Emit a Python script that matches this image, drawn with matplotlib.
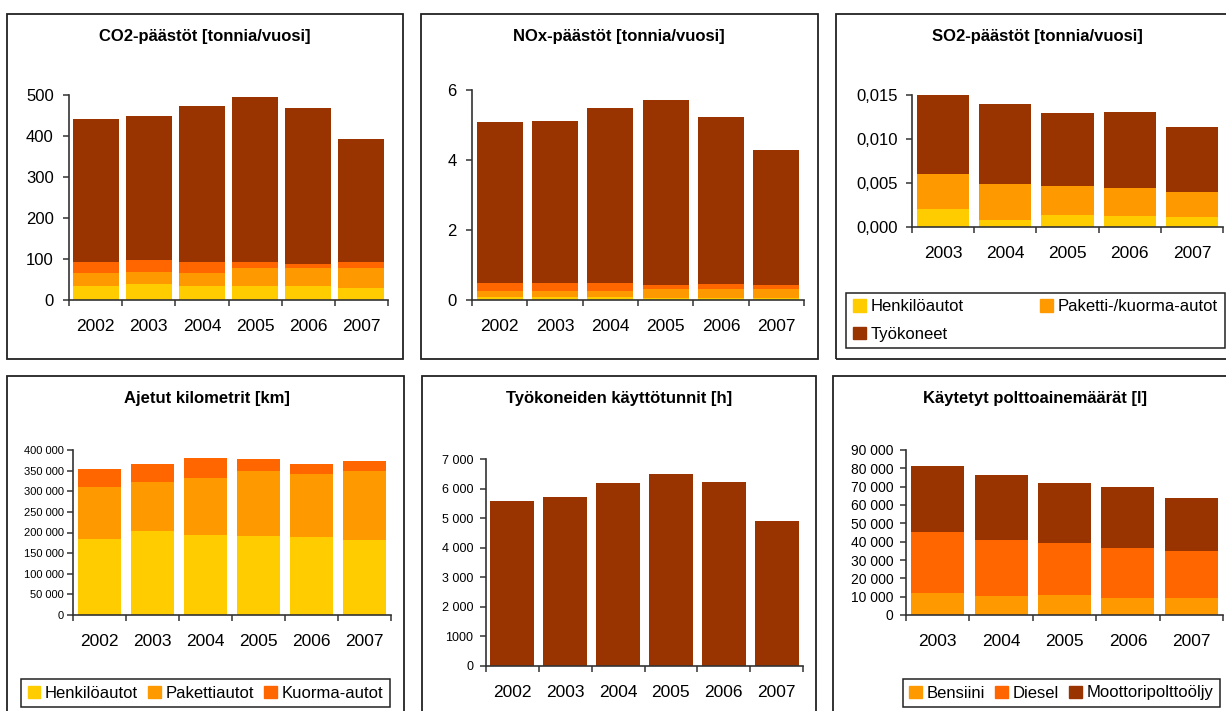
import matplotlib
matplotlib.use("Agg")
import matplotlib.pyplot as plt
from matplotlib.patches import Rectangle, Patch
import numpy as np

plt.rcParams['font.family'] = ['Liberation Sans', 'DejaVu Sans']

W, H = 1226, 711
DPI = 100

YELLOW = '#FFCC00'
LORANGE = '#FF9900'
ORANGE = '#FF6600'
BROWN = '#993300'

# --- data ---
years6 = ['2002', '2003', '2004', '2005', '2006', '2007']
years5 = ['2003', '2004', '2005', '2006', '2007']

co2_henkilo = [34, 39, 34, 34, 34, 29]
co2_paketti = [32, 29, 32, 44, 44, 49]
co2_kuorma = [27, 30, 27, 15, 10, 15]
co2_tyokoneet = [348, 351, 380, 402, 380, 300]

nox_henkilo = [0.09, 0.09, 0.09, 0.06, 0.06, 0.06]
nox_paketti = [0.17, 0.17, 0.17, 0.25, 0.25, 0.25]
nox_kuorma = [0.23, 0.23, 0.23, 0.12, 0.15, 0.12]
nox_tyokoneet = [4.60, 4.62, 5.00, 5.28, 4.77, 3.86]

so2_henkilo = [0.0020, 0.0008, 0.0014, 0.0012, 0.0011]
so2_paketti_kuorma = [0.0040, 0.0041, 0.0033, 0.0032, 0.0029]
so2_tyokoneet = [0.0090, 0.0091, 0.0082, 0.0087, 0.0074]

km_henkilo = [184000, 204000, 194000, 192000, 189000, 182000]
km_paketti = [126000, 118000, 138000, 157000, 153000, 167000]
km_kuorma = [44000, 44000, 49000, 29000, 24000, 24000]

tunnit = [5590, 5700, 6175, 6500, 6230, 4910]

bensiini = [12000, 10400, 10900, 9300, 9300]
diesel = [33300, 30500, 28400, 27200, 25600]
moottoripolttooljy = [36000, 35500, 32700, 33300, 28900]

co2_ticks = [0, 100, 200, 300, 400, 500]
co2_ticklabels = ['0', '100', '200', '300', '400', '500']
nox_ticks = [0, 2, 4, 6]
nox_ticklabels = ['0', '2', '4', '6']
so2_ticks = [0, 0.005, 0.010, 0.015]
so2_ticklabels = ['0,000', '0,005', '0,010', '0,015']
km_ticks = [0, 50000, 100000, 150000, 200000, 250000, 300000, 350000, 400000]
km_ticklabels = ['0', '50 000', '100 000', '150 000', '200 000', '250 000',
                 '300 000', '350 000', '400 000']
h_ticks = [0, 1000, 2000, 3000, 4000, 5000, 6000, 7000]
h_ticklabels = ['0', '1000', '2 000', '3 000', '4 000', '5 000', '6 000', '7 000']
l_ticks = [0, 10000, 20000, 30000, 40000, 50000, 60000, 70000, 80000, 90000]
l_ticklabels = ['0', '10 000', '20 000', '30 000', '40 000', '50 000',
                '60 000', '70 000', '80 000', '90 000']

fig = plt.figure(figsize=(W / DPI, H / DPI), dpi=DPI)
fig.patch.set_facecolor('white')


def frac_rect(l, t, r, b):
    return [l / W, 1 - b / H, (r - l) / W, (b - t) / H]


def frame(l, t, r, b):
    fig.patches.append(Rectangle((l / W, 1 - b / H), (r - l) / W, (b - t) / H,
                                 transform=fig.transFigure, fill=False,
                                 edgecolor='#222222', linewidth=1.3, zorder=0))


def title(x, y, s):
    fig.text(x / W, 1 - y / H, s, ha='center', va='center',
             fontsize=12, fontweight='bold', color='black')


def stacked(rect, cats, series, colors, ymax, ticks, ticklabels,
            width=0.84, ysize=12, ypad=6):
    ax = fig.add_axes(frac_rect(*rect))
    x = np.arange(len(cats))
    bottom = np.zeros(len(cats))
    for vals, c in zip(series, colors):
        ax.bar(x, vals, width, bottom=bottom, color=c, linewidth=0, zorder=2)
        bottom = bottom + np.asarray(vals, dtype=float)
    ax.set_xlim(-0.5, len(cats) - 0.5)
    ax.set_ylim(0, ymax)
    for s in ('top', 'right'):
        ax.spines[s].set_visible(False)
    for s in ('left', 'bottom'):
        ax.spines[s].set_color('#333333')
        ax.spines[s].set_linewidth(1.2)
    ax.set_yticks(ticks)
    ax.set_yticklabels(ticklabels, fontsize=ysize)
    ax.tick_params(axis='y', direction='out', length=4, width=1.1,
                   color='#333333', pad=ypad)
    ax.set_xticks(np.arange(len(cats) + 1) - 0.5)
    ax.set_xticklabels([])
    ax.set_xticks(x, minor=True)
    ax.set_xticklabels(cats, minor=True, fontsize=12.5)
    ax.tick_params(axis='x', which='major', direction='out', length=4,
                   width=1.1, color='#333333')
    ax.tick_params(axis='x', which='minor', length=0, pad=13.5)
    return ax


def legend(ax, handles, labels, rect, ncol, **kw):
    l, t, r, b = rect
    leg = ax.legend(handles, labels, loc='center', ncol=ncol,
                    bbox_to_anchor=frac_rect(l, t, r, b),
                    bbox_transform=fig.transFigure, fontsize=12,
                    frameon=True, fancybox=False, framealpha=1,
                    edgecolor='#222222', handlelength=0.75,
                    handleheight=0.75, handletextpad=0.3,
                    borderaxespad=0, **kw)
    leg.get_frame().set_linewidth(1.1)
    return leg


# panel frames
frame(7, 14, 403, 359)
frame(421, 14, 818, 359)
frame(836, 14, 1240, 359)
frame(7, 376, 404, 730)
frame(422, 376, 816, 730)
frame(833, 376, 1240, 730)

# CO2
title(205, 36, 'CO2-päästöt [tonnia/vuosi]')
stacked((69, 95, 388, 300), years6,
        [co2_henkilo, co2_paketti, co2_kuorma, co2_tyokoneet],
        [YELLOW, LORANGE, ORANGE, BROWN], 500, co2_ticks, co2_ticklabels,
        width=0.865, ypad=7)

# NOx
title(619, 36, 'NOx-päästöt [tonnia/vuosi]')
stacked((472, 90, 804, 300), years6,
        [nox_henkilo, nox_paketti, nox_kuorma, nox_tyokoneet],
        [YELLOW, LORANGE, ORANGE, BROWN], 6, nox_ticks, nox_ticklabels,
        width=0.83, ypad=7)

# SO2
title(1037, 36, 'SO2-päästöt [tonnia/vuosi]')
ax3 = stacked((912, 95, 1223, 227), years5,
              [so2_henkilo, so2_paketti_kuorma, so2_tyokoneet],
              [YELLOW, LORANGE, BROWN], 0.015, so2_ticks, so2_ticklabels,
              width=0.84, ypad=6)
h3 = [Patch(color=YELLOW), Patch(color=BROWN), Patch(color=LORANGE)]
legend(ax3, h3, ['Henkilöautot', 'Työkoneet', 'Paketti-/kuorma-autot'],
       (847, 288, 1224, 353), ncol=2, columnspacing=4.6, labelspacing=0.75)

# Kilometres
title(207, 398, 'Ajetut kilometrit [km]')
ax4 = stacked((73, 450, 391, 615), years6,
              [km_henkilo, km_paketti, km_kuorma],
              [YELLOW, LORANGE, ORANGE], 400000, km_ticks, km_ticklabels,
              width=0.83, ysize=8, ypad=2.5)
h4 = [Patch(color=YELLOW), Patch(color=LORANGE), Patch(color=ORANGE)]
legend(ax4, h4, ['Henkilöautot', 'Pakettiautot', 'Kuorma-autot'],
       (23, 676, 388, 710), ncol=3, columnspacing=0.6)

# Operating hours
title(619, 398, 'Työkoneiden käyttötunnit [h]')
stacked((486, 459, 803, 666), years6, [tunnit], [BROWN], 7000,
        h_ticks, h_ticklabels, width=0.83, ysize=9, ypad=5)

# Fuel
title(1035, 398, 'Käytetyt polttoainemäärät [l]')
ax6 = stacked((906, 450, 1223, 615), years5,
              [bensiini, diesel, moottoripolttooljy],
              [LORANGE, ORANGE, BROWN], 90000, l_ticks, l_ticklabels,
              width=0.835, ysize=10, ypad=5)
h6 = [Patch(color=LORANGE), Patch(color=ORANGE), Patch(color=BROWN)]
legend(ax6, h6, ['Bensiini', 'Diesel', 'Moottoripolttoöljy'],
       (907, 676, 1216, 710), ncol=3, columnspacing=0.6)

fig.savefig('out.png', dpi=DPI, facecolor='white')
